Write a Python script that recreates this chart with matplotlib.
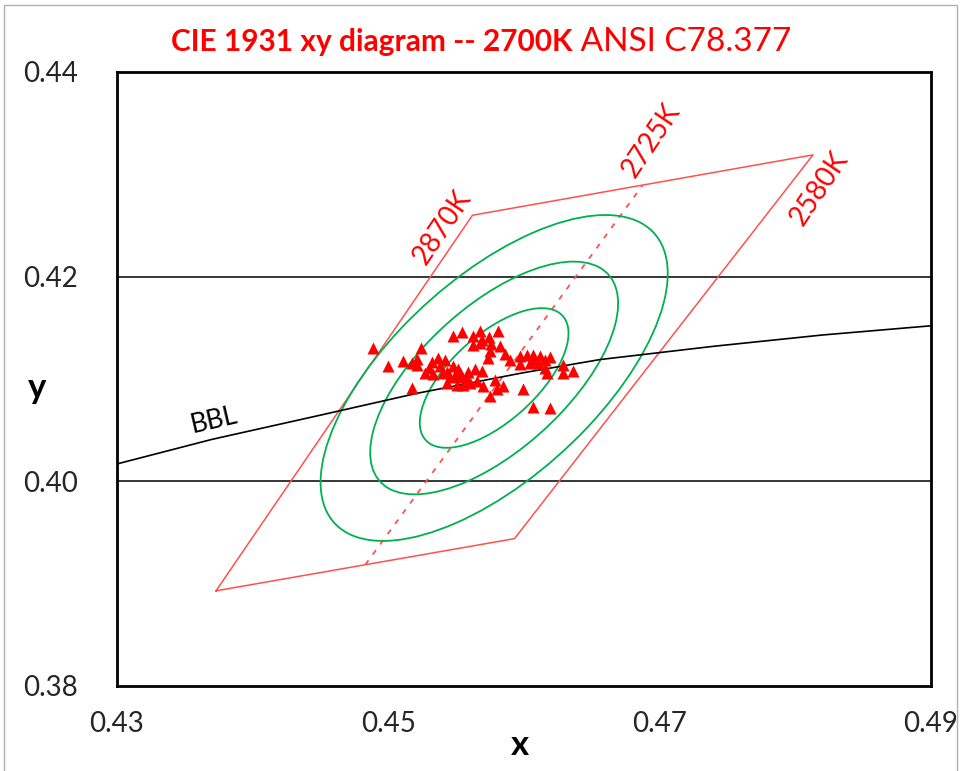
import numpy as np
import matplotlib.pyplot as plt
from matplotlib.patches import Ellipse, Rectangle

plt.rcParams['font.family'] = ['Lato', 'DejaVu Sans']

# ANSI C78.377 2700K quadrangle (x, y), closed
quad_x = [0.4373, 0.4562, 0.4813, 0.4593, 0.4373]
quad_y = [0.3893, 0.4260, 0.4319, 0.3944, 0.3893]

# 2725K centre line (dashed)
iso_x = [0.4483, 0.46875]
iso_y = [0.39185, 0.42895]

# black body locus
bbl_x = [0.430, 0.437, 0.4451, 0.4521, 0.4599, 0.4656, 0.4740, 0.4820, 0.490]
bbl_y = [0.4017, 0.4041, 0.4065, 0.4086, 0.4106, 0.4119, 0.4132, 0.4143, 0.4152]

# MacAdam ellipses
ell_center = (0.4578, 0.4101)
ell_a = 0.00266   # per step
ell_b = 0.00120
ell_angle = 54.5
ell_steps = [3, 5, 7]

# measured points
pts_x = [0.44885, 0.45000, 0.45110, 0.45172, 0.45209, 0.45213, 0.45238, 0.45177,
         0.45270, 0.45320, 0.45364, 0.45381, 0.45331, 0.45405, 0.45430, 0.45479,
         0.45491, 0.45528, 0.45504, 0.45553, 0.45578, 0.45474, 0.45541, 0.45626,
         0.45676, 0.45688, 0.45626, 0.45744, 0.45754, 0.45806, 0.45823, 0.45749,
         0.45737, 0.45688, 0.45651, 0.45700, 0.45749, 0.45799, 0.45847, 0.45786,
         0.45860, 0.45897, 0.45970, 0.46020, 0.46069, 0.46118, 0.46192, 0.45970,
         0.46044, 0.46105, 0.46155, 0.46167, 0.46290, 0.46290, 0.46359, 0.45990,
         0.46064, 0.46192, 0.45602, 0.45676, 0.45432, 0.45454, 0.45543, 0.45587,
         0.45639, 0.45513, 0.45300, 0.45418, 0.46081, 0.46155]
pts_y = [0.41304, 0.41125, 0.41174, 0.41158, 0.41197, 0.41135, 0.41304, 0.40914,
         0.41060, 0.41164, 0.41207, 0.41125, 0.41044, 0.41060, 0.40963, 0.41125,
         0.41027, 0.41060, 0.40946, 0.40946, 0.40995, 0.41418, 0.41457, 0.41418,
         0.41466, 0.41385, 0.41337, 0.41412, 0.41346, 0.41473, 0.41320, 0.41271,
         0.41207, 0.41076, 0.40979, 0.40930, 0.40832, 0.40898, 0.40930, 0.40995,
         0.41249, 0.41190, 0.41222, 0.41239, 0.41239, 0.41222, 0.41217, 0.41151,
         0.41158, 0.41158, 0.41109, 0.41060, 0.41141, 0.41060, 0.41076, 0.40898,
         0.40729, 0.40712, 0.40963, 0.41353, 0.41073, 0.41015, 0.41015, 0.41073,
         0.41093, 0.41093, 0.41112, 0.41190, 0.41190, 0.41190]

x_ticks = [0.43, 0.45, 0.47, 0.49]
y_ticks = [0.38, 0.40, 0.42, 0.44]

red = '#FF0000'
green = '#00B050'

fig = plt.figure(figsize=(9.64, 7.71), dpi=100)
ax = fig.add_axes([117/964, 1-686/771, 814/964, 614/771])

# horizontal grid lines
for yv in y_ticks[1:-1]:
    ax.axhline(yv, color='black', lw=1.1, zorder=1)

ax.plot(quad_x, quad_y, color='#FF5050', lw=1.1, zorder=2)
ax.plot(iso_x, iso_y, color='#FF5050', lw=1.3, ls=(0, (3, 4)), zorder=2)

for s in ell_steps:
    e = Ellipse(ell_center, 2*ell_a*s, 2*ell_b*s, angle=ell_angle,
                fill=False, edgecolor=green, lw=1.3, zorder=2)
    ax.add_patch(e)

ax.plot(bbl_x, bbl_y, color='black', lw=1.2, zorder=3)

ax.scatter(pts_x, pts_y, marker='^', s=75, color=red, linewidths=0, zorder=4)

ax.text(0.45396, 0.42478, '2870K', color=red, fontsize=20, rotation=56,
        ha='center', va='center', rotation_mode='anchor')
ax.text(0.46936, 0.43337, '2725K', color=red, fontsize=20, rotation=56,
        ha='center', va='center', rotation_mode='anchor')
ax.text(0.48174, 0.42868, '2580K', color=red, fontsize=20, rotation=56,
        ha='center', va='center', rotation_mode='anchor')
ax.text(0.43712, 0.40595, 'BBL', color='black', fontsize=19, rotation=13,
        ha='center', va='center', rotation_mode='anchor')

ax.set_xlim(0.43, 0.49)
ax.set_ylim(0.38, 0.44)
ax.set_xticks(x_ticks)
ax.set_yticks(y_ticks)
ax.set_xticklabels([f'{v:.2f}' for v in x_ticks])
ax.set_yticklabels([f'{v:.2f}' for v in y_ticks])
ax.tick_params(length=0, labelsize=20, labelcolor='#262626')
ax.tick_params(axis='x', pad=18)
ax.tick_params(axis='y', pad=28)
for sp in ax.spines.values():
    sp.set_linewidth(2)
    sp.set_color('black')

# title: bold part + normal part
fig.text(572/964, 1-42/771, 'CIE 1931 xy diagram -- 2700K', color=red,
         fontsize=21.5, fontweight='bold', ha='right', va='center')
fig.text(572/964, 1-42/771, ' ANSI C78.377', color=red,
         fontsize=24, ha='left', va='center')

fig.text(37/964, 1-388/771, 'y', fontsize=25, fontweight='bold', ha='center', va='center')
fig.text(520/964, 1-745/771, 'x', fontsize=25, fontweight='bold', ha='center', va='center')

# chart area border
fig.patches.append(Rectangle((4/964, -0.01), 953/964, 1.01-5/771, transform=fig.transFigure,
                             fill=False, edgecolor='#B0B0B0', lw=1))

fig.savefig('out.png', dpi=100)
